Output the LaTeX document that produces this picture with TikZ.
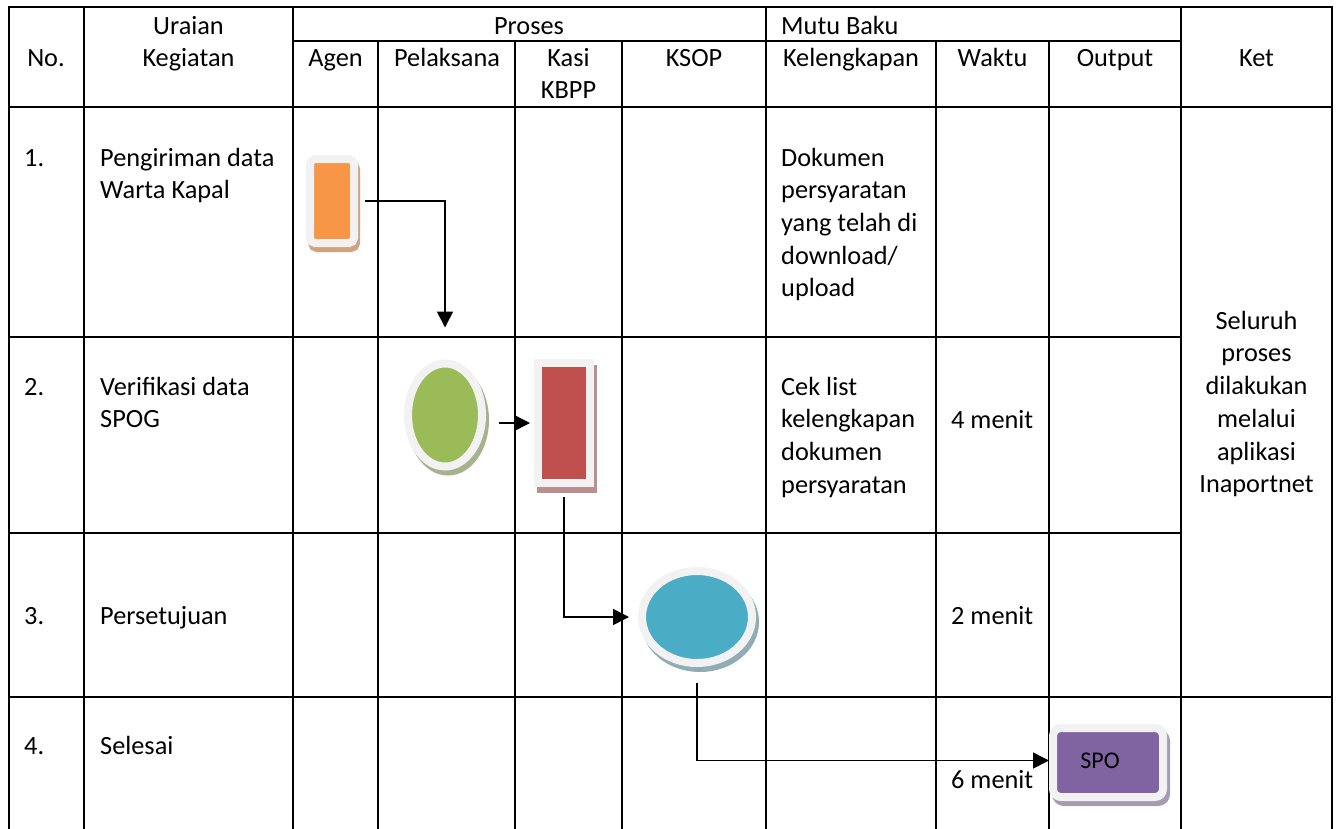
\documentclass[tikz,border=0pt]{standalone}
\usepackage{fontspec}
\setmainfont{Carlito}
\usetikzlibrary{arrows.meta,shapes.geometric,shadows}
\definecolor{frm}{HTML}{F2F2F2}
\definecolor{orgF}{HTML}{F79646}
\definecolor{orgS}{HTML}{CFA383}
\definecolor{grnF}{HTML}{9BBB59}
\definecolor{grnS}{HTML}{A6B28E}
\definecolor{redF}{HTML}{C0504D}
\definecolor{redS}{HTML}{B99090}
\definecolor{bluF}{HTML}{4BACC6}
\definecolor{bluS}{HTML}{90ADB5}
\definecolor{purF}{HTML}{8064A2}
\definecolor{purS}{HTML}{A49CB0}
\tikzset{
  tbl/.style={line width=2.2pt, line cap=rect},
  txt/.style={font=\fontsize{26.3}{32.7}\selectfont, inner sep=0pt, yshift=22.9pt},
  tl/.style={txt, anchor=north west, align=left},
  tc/.style={txt, anchor=north, align=center},
  conn/.style={line width=1.6pt, -{Triangle[length=16pt,width=16pt]}},
  framed/.style={draw=frm, line width=8pt, inner sep=0pt},
  shad/.style 2 args={general shadow={fill=#1, draw=#1, shadow xshift=#2, shadow yshift=-5pt}},
}
\begin{document}
\begin{tikzpicture}[x=1pt,y=-1pt]
\useasboundingbox (0,0) rectangle (1340,828);
% table grid
\draw[tbl] (9,7) -- (1332,7);
\draw[tbl] (293,41) -- (1181,41);
\draw[tbl] (9,107) -- (1332,107);
\draw[tbl] (9,337) -- (1181,337);
\draw[tbl] (9,533) -- (1181,533);
\draw[tbl] (9,697) -- (1332,697);
\foreach \x in {9,84,293,766,1181,1332} \draw[tbl] (\x,7) -- (\x,828);
\foreach \x in {378,515,622,936,1049} \draw[tbl] (\x,41) -- (\x,828);
% header texts
\node[tc] (hno) at (46,66) {\strut No.};
\node[tc] (hur) at (188.5,34) {\strut Uraian\\Kegiatan};
\node[tc] (hpr) at (529,34) {\strut Proses};
\node[tc] (hag) at (335.5,66) {\strut Agen};
\node[tc] (hpe) at (447,66) {\strut Pelaksana};
\node[tc] (hka) at (568.5,66) {\strut Kasi\\KBPP};
\node[tc] (hks) at (694,66) {\strut KSOP};
\node[tl] (hmb) at (781,34) {\strut Mutu Baku};
\node[tc] (hke) at (851,66) {\strut Kelengkapan};
\node[tc] (hwa) at (992.5,66) {\strut Waktu};
\node[tc] (hou) at (1115,66) {\strut Output};
\node[tc] (hket) at (1256.5,66) {\strut Ket};
% row texts
\node[tl] (n1) at (24,166) {\strut 1.};
\node[tl] (u1) at (100,166) {\strut Pengiriman data\\Warta Kapal};
\node[tl] (k1) at (781,166) {\strut Dokumen\\persyaratan\\yang telah di\\download/\\upload};
\node[tl] (n2) at (24,395) {\strut 2.};
\node[tl] (u2) at (100,395) {\strut Verifikasi data\\SPOG};
\node[tl] (k2) at (781,395) {\strut Cek list\\kelengkapan\\dokumen\\persyaratan};
\node[tl] (w2) at (951,428) {\strut 4 menit};
\node[tl] (n3) at (24,624) {\strut 3.};
\node[tl] (u3) at (100,624) {\strut Persetujuan};
\node[tl] (w3) at (951,624) {\strut 2 menit};
\node[tl] (n4) at (24,754) {\strut 4.};
\node[tl] (u4) at (100,754) {\strut Selesai};
\node[tl] (w4) at (951,788) {\strut 6 menit};
\node[tc] (ket) at (1256.5,329) {\strut Seluruh\\proses\\dilakukan\\melalui\\aplikasi\\Inaportnet};
% shapes
\node[framed, rectangle, rounded corners=5pt, fill=orgF, minimum width=44pt, minimum height=84pt, shad={orgS}{2pt}] (agen) at (332,201) {};
\node[framed, ellipse, fill=grnF, minimum width=74pt, minimum height=103pt, shad={grnS}{3pt}] (pel) at (445,415) {};
\node[framed, rectangle, fill=redF, minimum width=52pt, minimum height=120pt, general shadow={fill=redS, draw=redS, shadow xshift=3pt, shadow yshift=-6pt}] (kasi) at (564,423) {};
\node[framed, ellipse, fill=bluF, minimum width=110pt, minimum height=92pt, shad={bluS}{3pt}] (ksop) at (697,617) {};
\node[framed, rectangle, rounded corners=8pt, fill=purF, minimum width=110pt, minimum height=69pt, shad={purS}{3pt}] (spo) at (1108,762.5) {};
\node[font=\fontsize{24}{29}\selectfont, inner sep=0pt] (spolbl) at (1100,760.5) {SPO};
% connectors
\draw[conn] ([xshift=7pt]agen.east) -| ([yshift=32pt]pel.north);
\draw[conn] ([xshift=13pt]kasi.west -| pel.east) -- ([xshift=-4pt]kasi.west);
\draw[conn] ([yshift=-10pt]kasi.south) |- ([xshift=-9pt]ksop.west);
\draw[conn] ([yshift=-16pt]ksop.south) |- ([yshift=2pt]spo.west);
\end{tikzpicture}
\end{document}
